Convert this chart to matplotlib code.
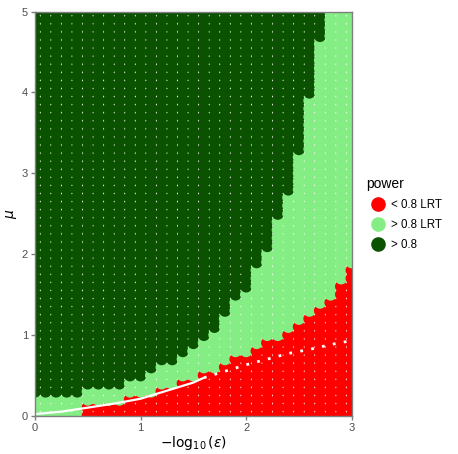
import numpy as np
import matplotlib
matplotlib.use("Agg")
import matplotlib.pyplot as plt
from matplotlib.lines import Line2D

plt.rcParams['font.family'] = ['Liberation Sans', 'DejaVu Sans']
plt.rcParams['mathtext.fontset'] = 'dejavusans'

# grid of -log10(eps) columns and mu rows
neg_log_eps = np.round(np.arange(31) * 0.1, 1)
mu = np.round(np.arange(51) * 0.1, 1)

# per column: number of rows (from mu=0) with power < 0.8 (LRT only)
n_red = [0, 0, 0, 0, 0, 2, 2, 2, 2, 3, 3, 3, 4, 4, 5, 5,
         6, 6, 7, 8, 8, 9, 10, 10, 11, 12, 13, 14, 15, 17, 19]
# per column: first row where power > 0.8
dark_start = [3, 3, 3, 3, 3, 4, 4, 4, 4, 5, 5, 6, 7, 7, 8, 9,
              10, 11, 13, 15, 16, 19, 21, 25, 28, 33, 40, 47, 51, 51, 51]

# LRT boundary curve
curve_x = [0.0, 0.25, 0.5, 0.75, 1.0, 1.25, 1.5, 1.6]
curve_y = [0.02, 0.05, 0.10, 0.15, 0.21, 0.31, 0.41, 0.47]
curve2_x = [1.6, 1.8, 2.0, 2.2, 2.4, 2.6, 2.8, 3.0]
curve2_y = [0.47, 0.55, 0.63, 0.70, 0.77, 0.82, 0.88, 0.93]

labels = ['< 0.8 LRT', '> 0.8 LRT', '> 0.8']
colors = ['#ff0000', '#84ee84', '#0b5200']

xs, ys, cs = [], [], []
for j, m in enumerate(mu):
    for i, e in enumerate(neg_log_eps):
        if j < n_red[i]:
            k = 0
        elif j < dark_start[i]:
            k = 1
        else:
            k = 2
        xs.append(e)
        ys.append(m)
        cs.append(colors[k])

fig = plt.figure(figsize=(4.58, 4.54), dpi=100)
ax = fig.add_axes([35 / 458, 38.3 / 454, 316.7 / 458, 404 / 454])
ax.scatter(xs, ys, c=cs, s=78, linewidths=0, zorder=2)
ax.plot(curve_x, curve_y, color='white', lw=1.6, zorder=3, solid_capstyle='butt')
ax.plot(curve2_x, curve2_y, color='white', lw=2, ls=(0, (1, 3)), zorder=3)

ax.set_xlim(0, 3)
ax.set_ylim(0, 5)
ax.set_xticks([0, 1, 2, 3])
ax.set_yticks([0, 1, 2, 3, 4, 5])
for s in ax.spines.values():
    s.set_color('#7f7f7f')
    s.set_linewidth(1)
    s.set_zorder(4)
ax.tick_params(colors='#7f7f7f', labelcolor='#4d4d4d', labelsize=8, length=3, width=1, pad=2)
ax.set_xlabel(r'$-\log_{10}(\varepsilon)$', fontsize=10, labelpad=1)
ax.set_ylabel(r'$\mu$', fontsize=10, labelpad=2)

handles = [Line2D([], [], ls='none', marker='o', markersize=9.5, color=c) for c in colors]
leg = fig.legend(handles, labels, title='power', loc='upper left',
                 bbox_to_anchor=(362 / 458, 1 - 172 / 454), frameon=False,
                 fontsize=8.3, title_fontsize=10, handletextpad=0.15,
                 labelspacing=0.7, borderaxespad=0)
leg._legend_box.align = 'left'

fig.savefig('out.png', dpi=100)
